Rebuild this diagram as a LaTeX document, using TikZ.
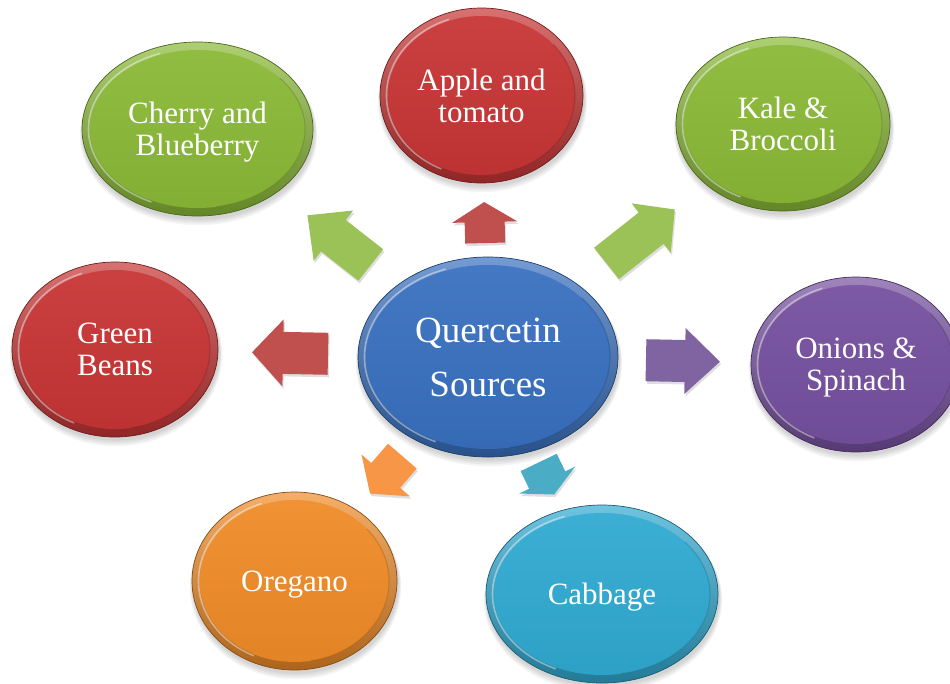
\documentclass[tikz,border=0pt]{standalone}
\usepackage{fontspec}
\setmainfont{Liberation Serif}
\usetikzlibrary{shapes.geometric,calc}
\definecolor{gbub}{RGB}{138,186,54}
\definecolor{rbub}{RGB}{200,52,52}
\definecolor{bbub}{RGB}{56,112,192}
\definecolor{pbub}{RGB}{118,80,160}
\definecolor{obub}{RGB}{240,140,40}
\definecolor{cbub}{RGB}{48,170,210}
\definecolor{garr}{RGB}{155,194,86}
\definecolor{rarr}{RGB}{192,80,77}
\definecolor{parr}{RGB}{128,100,162}
\definecolor{oarr}{RGB}{247,150,70}
\definecolor{carr}{RGB}{75,172,198}
\tikzset{
  bub/.style={ellipse, inner sep=0pt, outer sep=0pt, text=white, align=center,
    font=\fontsize{31}{32}\selectfont, text depth=0pt, line width=0.7pt},
  bigtext/.style={font=\fontsize{37}{54}\selectfont},
  bubshadow/.style={fill=black, opacity=0.045},
  arrshadow/.style={fill=black, opacity=0.13},
}
\newcommand\bubble[8][]{%
  \pgfmathsetmacro\irx{#5-8}%
  \pgfmathsetmacro\iry{#6-8}%
  \foreach \k in {1,...,4}{\fill[bubshadow] (#3+1,#4+2+\k) ellipse [x radius=#5pt+\k*0.8pt, y radius=#6pt+\k*0.8pt];}
  \node[bub, #1, minimum width=2*#5pt, minimum height=2*#6pt, draw=#7!55!black,
    top color=#7!70!white, bottom color=#7!72!black,
    path picture={
      \shade[top color=#7!94!white, bottom color=#7!94!black]
        (path picture bounding box.center) ellipse [x radius=\irx pt, y radius=\iry pt];
      \draw[white, opacity=0.4, line width=1.6pt]
        ([shift={(110:\irx pt+1.5pt and \iry pt+1.5pt)}]path picture bounding box.center)
        arc [start angle=110, end angle=245, x radius=\irx pt+1.5pt, y radius=\iry pt+1.5pt];
      \draw[#7!65!black, opacity=0.35, line width=1.2pt]
        ([shift={(280:\irx pt and \iry pt)}]path picture bounding box.center)
        arc [start angle=280, end angle=400, x radius=\irx pt, y radius=\iry pt];
    }] (#2) at (#3,#4) {#8};%
}
\newcommand\arrowpoly[4]{%
  \fill[#4] ($(#1-s)!#2pt!90:(#1-e)$) -- ($(#1-h)!#2pt!90:(#1-e)$) -- ($(#1-h)!#3pt!90:(#1-e)$) -- (#1-e)
    -- ($(#1-h)!#3pt!-90:(#1-e)$) -- ($(#1-h)!#2pt!-90:(#1-e)$) -- ($(#1-s)!#2pt!-90:(#1-e)$) -- cycle;}
\newcommand\blockarrow[8]{%
  \pgfmathsetmacro\hdist{#4-#7}%
  \coordinate (#2-s) at ($(#1.center)!#3pt!(#2.center)$);
  \coordinate (#2-e) at ($(#1.center)!#4pt!(#2.center)$);
  \coordinate (#2-h) at ($(#1.center)!\hdist pt!(#2.center)$);
  \begin{scope}[transform canvas={shift={(1.2pt,-2.5pt)}}]
    \arrowpoly{#2}{#5}{#6}{arrshadow}
  \end{scope}
  \arrowpoly{#2}{#5}{#6}{fill=#8}
}
\begin{document}
\begin{tikzpicture}[x=1pt,y=-1pt]
\useasboundingbox (0,0) rectangle (950,683);
\fill[white] (0,0) rectangle (950,683);
\clip (0,0) rectangle (950,683);
\bubble{cherry}{197.5}{129}{115.5}{87}{gbub}{Cherry and\\Blueberry}
\bubble{apple}{481.5}{95.5}{101.5}{87.5}{rbub}{Apple and\\tomato}
\bubble{kale}{783}{124}{107}{87}{gbub}{Kale \&\\Broccoli}
\bubble{beans}{115}{349.5}{103}{87.5}{rbub}{Green\\Beans}
\bubble{onions}{856}{364.5}{105}{87.5}{pbub}{Onions \&\\Spinach}
\bubble{oregano}{294.5}{581}{102.5}{89}{obub}{Oregano}
\bubble{cabbage}{602}{594}{116}{89}{cbub}{Cabbage}
\bubble[bigtext]{qs}{488}{357}{130}{100}{bbub}{Quercetin\\Sources}
\blockarrow{qs}{apple}{114}{155}{20}{32.5}{20}{rarr}
\blockarrow{qs}{beans}{160}{236}{21}{33.5}{31}{rarr}
\blockarrow{qs}{onions}{158}{232}{21}{33}{35}{parr}
\blockarrow{qs}{cherry}{149}{229.5}{20}{32}{33}{garr}
\blockarrow{qs}{kale}{151}{238}{20}{31.5}{30}{garr}
\blockarrow{qs}{oregano}{131}{180.5}{19}{32}{24}{oarr}
\blockarrow{qs}{cabbage}{117}{152.6}{20}{31}{16}{carr}
\end{tikzpicture}
\end{document}
